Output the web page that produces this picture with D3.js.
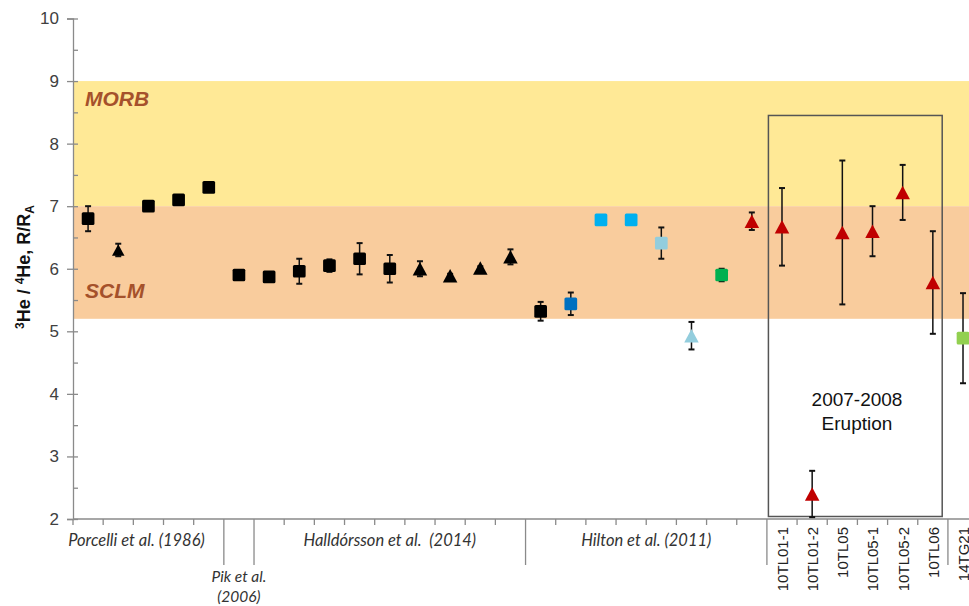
<!DOCTYPE html>
<html><head><meta charset="utf-8">
<script src="https://cdn.jsdelivr.net/npm/d3@7"></script>
<style>body{margin:0;background:#fff} svg{display:block}</style>
</head><body>
<svg id="c" width="969" height="606"></svg>
<script>
// ---------- DATA ----------
const categories = ["P1","P2","P3","P4","P5","PK1","H1","H2","H3","H4","H5","H6","H7","H8","H9",
  "HI1","HI2","HI3","HI4","HI5","HI6","HI7","HI8",
  "10TL01-1","10TL01-2","10TL05","10TL05-1","10TL05-2","10TL06","14TG21"];
const sampleLabels = ["","","","","","","","","","","","","","","",
  "","","","","","","","",
  "10TL01-1","10TL01-2","10TL05","10TL05-1","10TL05-2","10TL06","14TG21"];
const values = [6.8,6.3,7.0,7.1,7.3, 5.9, 5.87,5.96,6.05,6.16,6.0,6.0,5.89,6.01,6.19,
  5.32,5.44,6.78,6.78,6.41,4.93,5.9,6.76,
  6.67,2.4,6.58,6.6,7.22,5.78,4.89];
const errors = [0.2,0.1,0.05,0.03,0.03, 0.03, 0.03,0.2,0.1,0.25,0.22,0.12,0.03,0.03,0.12,
  0.15,0.18,0.0,0.05,0.25,0.22,0.1,0.14,
  0.62,0.37,1.15,0.4,0.44,0.82,0.72];
const shapes = ["s","t","s","s","s","s","s","s","s","s","s","t","t","t","t",
  "s","s","s","s","s","t","s","t",
  "t","t","t","t","t","t","s"];
const colors = ["#000","#000","#000","#000","#000","#000","#000","#000","#000","#000","#000","#000","#000","#000","#000",
  "#000","#0070C0","#00B0F0","#00B0F0","#93CDDD","#93CDDD","#00B050","#C00000",
  "#C00000","#C00000","#C00000","#C00000","#C00000","#C00000","#92D050"];
const groupNames = ["Porcelli et al. (1986)","Pik et al.|(2006)","Halldórsson et al.  (2014)","Hilton et al. (2011)","",""];
const groupStarts = [0,5,6,15,23,29];
const groupEnds   = [5,6,15,23,29,30];
const yTicks = [2,3,4,5,6,7,8,9,10];
const bandNames = ["MORB","SCLM"];
const bandLo = [7,5.2];
const bandHi = [9,7];
const eruptionLines = ["2007-2008","Eruption"];
const eruptionBox = {x0:23.05, x1:28.81, lo:2.04, hi:8.45};

// ---------- LAYOUT ----------
const svg = d3.select("#c");
const X0 = 73, STEP = 30.17;
const x = d3.scaleBand().domain(categories).range([X0, X0 + STEP*categories.length]).padding(0);
const xi = d3.scaleLinear().domain([0, categories.length]).range([X0, X0 + STEP*categories.length]);
const y = d3.scaleLinear().domain([2,10]).range([519, 18.5]);
const axisCol = "#8a8a8a";

// bands
const bandCols = ["#FFE996","#F9CC9D"];
svg.append("g").selectAll("rect").data(bandNames).join("rect")
  .attr("x", X0).attr("width", 969 - X0)
  .attr("y", (d,i)=>y(bandHi[i])).attr("height",(d,i)=>y(bandLo[i])-y(bandHi[i]))
  .attr("fill",(d,i)=>bandCols[i]);
svg.append("g").selectAll("text").data(bandNames).join("text")
  .attr("x", 85).attr("y",(d,i)=> i===0 ? 106 : 298)
  .attr("font-family","Liberation Sans, Arial, sans-serif").attr("font-weight","bold")
  .attr("font-style","italic").attr("font-size",21).attr("fill","#A5512B").text(d=>d);

// eruption box
svg.append("rect")
  .attr("x", xi(eruptionBox.x0)).attr("width", xi(eruptionBox.x1)-xi(eruptionBox.x0))
  .attr("y", y(eruptionBox.hi)).attr("height", y(eruptionBox.lo)-y(eruptionBox.hi))
  .attr("fill","none").attr("stroke","#555").attr("stroke-width",1.5);
svg.append("g").selectAll("text").data(eruptionLines).join("text")
  .attr("x", 857).attr("y",(d,i)=>406 + i*24).attr("text-anchor","middle")
  .attr("font-family","Liberation Sans, Arial, sans-serif").attr("font-size",19).attr("fill","#111").text(d=>d);

// y axis
const gy = svg.append("g").attr("transform",`translate(${X0},0)`)
  .call(d3.axisLeft(y).tickValues(yTicks).tickSize(6).tickFormat(d3.format("d")));
gy.select(".domain").attr("stroke",axisCol).attr("stroke-width",1.3);
gy.selectAll(".tick line").attr("stroke",axisCol).attr("stroke-width",1.3);
gy.selectAll(".tick text").attr("font-family","Liberation Sans, Arial, sans-serif").attr("font-size",17)
  .attr("fill","#404040").attr("x",-14);
const minorTicks = d3.range(2,10.01,0.5);
const gy2 = svg.append("g").attr("transform",`translate(${X0},0)`)
  .call(d3.axisRight(y).tickValues(minorTicks).tickSize(5).tickFormat(""));
gy2.select(".domain").remove();
gy2.selectAll(".tick line").attr("stroke",axisCol).attr("stroke-width",1.3);

// y label
const yl = svg.append("text").attr("transform","translate(30,267) rotate(-90)")
  .attr("text-anchor","middle").attr("font-family","Liberation Sans, Arial, sans-serif")
  .attr("font-weight","bold").attr("font-size",18).attr("fill","#111");
yl.append("tspan").attr("font-size",12).attr("dy",-6).text("3");
yl.append("tspan").attr("dy",6).text("He / ");
yl.append("tspan").attr("font-size",12).attr("dy",-6).text("4");
yl.append("tspan").attr("dy",6).text("He, R/R");
yl.append("tspan").attr("font-size",12).attr("dy",4).text("A");

// x axis
const gx = svg.append("g");
gx.append("line").attr("x1",X0).attr("x2",969).attr("y1",y(2)).attr("y2",y(2))
  .attr("stroke",axisCol).attr("stroke-width",1.3);
const bounds = d3.range(0, categories.length+1);
const longB = groupStarts.slice(1);
gx.selectAll("line.t").data(bounds).join("line").attr("class","t")
  .attr("x1",d=>xi(d)).attr("x2",d=>xi(d)).attr("y1",y(2))
  .attr("y2",d=> longB.includes(d) ? 565 : y(2)+6)
  .attr("stroke",axisCol).attr("stroke-width",1.3);

// group labels
const groupDx = [-12,0,0,0,0,0];
groupNames.forEach((g,i)=>{
  if(!g) return;
  const cx = (xi(groupStarts[i]) + xi(groupEnds[i]))/2 + groupDx[i];
  const parts = g.split("|");
  const multi = parts.length>1;
  const baseY = multi ? 582 : 546;
  parts.forEach((p,j)=>{
    svg.append("text").attr("x",cx).attr("y",baseY + j*19.5).attr("text-anchor","middle")
      .style("white-space","pre")
      .attr("font-family","Lato, Open Sans, sans-serif").attr("font-style","italic")
      .attr("font-size", multi ? 15.5 : 16.5).attr("fill","#333").text(p);
  });
});

// sample labels
svg.append("g").selectAll("text").data(categories.map((c,i)=>({c, l:sampleLabels[i]})).filter(d=>d.l))
  .join("text")
  .attr("transform",d=>`translate(${x(d.c)+x.bandwidth()/2+0.5},527) rotate(-90)`)
  .attr("text-anchor","end").attr("dy","0.36em")
  .attr("font-family","Liberation Sans, Arial, sans-serif").attr("font-size",15).attr("fill","#222")
  .text(d=>d.l);

// points
const pts = categories.map((c,i)=>({c, v:values[i], e:errors[i], s:shapes[i], col:colors[i]}));
const cx = d=> x(d.c) + x.bandwidth()/2;
const eb = svg.append("g").attr("stroke","#111");
pts.filter(d=>d.e>0).forEach(d=>{
  eb.append("line").attr("x1",cx(d)).attr("x2",cx(d)).attr("y1",y(d.v+d.e)).attr("y2",y(d.v-d.e)).attr("stroke-width",1.5);
  [d.v+d.e, d.v-d.e].forEach(vv=>{
    eb.append("line").attr("x1",cx(d)-3).attr("x2",cx(d)+3).attr("y1",y(vv)).attr("y2",y(vv)).attr("stroke-width",2);
  });
});
const mk = svg.append("g");
pts.forEach(d=>{
  const px = cx(d), py = y(d.v);
  if(d.s==="s"){
    const s=12.7;
    mk.append("rect").attr("x",px-s/2).attr("y",py-s/2).attr("width",s).attr("height",s)
      .attr("rx",1.5).attr("fill",d.col);
  } else {
    const w = d.c==="P2" ? 12.5 : 14.5, h = d.c==="P2" ? 11.5 : 13.5;
    mk.append("path").attr("d",`M${px},${py-h/2}L${px+w/2},${py+h/2}L${px-w/2},${py+h/2}Z`).attr("fill",d.col);
  }
});
</script>
</body></html>
